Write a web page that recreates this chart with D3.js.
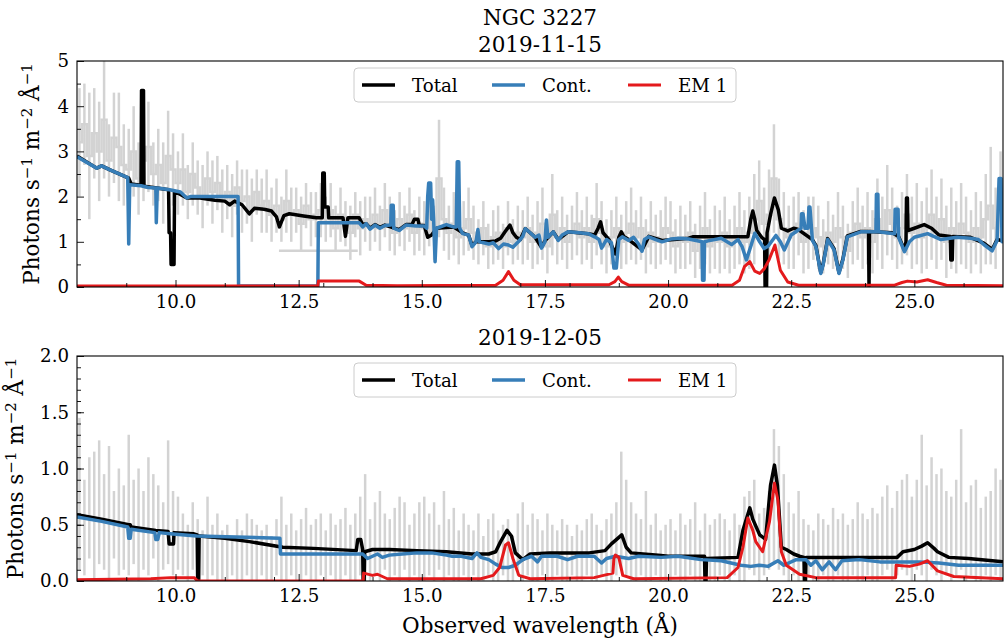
<!DOCTYPE html>
<html lang="en">
<head>
<meta charset="utf-8">
<title>NGC 3227</title>
<script src="https://cdn.jsdelivr.net/npm/d3@7"></script>
<style>
body { margin: 0; background: #fff; }
text { font-family: 'DejaVu Serif', serif; fill: #000; }
</style>
</head>
<body>
<script>
// ---- data ----
var title = "NGC 3227";
var dates = ["2019-11-15", "2019-12-05"];
var legendNames = ["Total", "Cont.", "EM 1"];
var xTicks = [10.0, 12.5, 15.0, 17.5, 20.0, 22.5, 25.0];
var topYTicks = [0, 1, 2, 3, 4, 5];
var botYTicks = [0.0, 0.5, 1.0, 1.5, 2.0];

// observed spectrum, bins of 0.1 A starting at 8.0
var binStart = 8.0, binWidth = 0.1;

// first epoch: value and error per bin
var topVal = [
  3.2,3.6,2.9,3.4,3.0,3.7,2.8,3.3,3.1,2.7,
  2.6,3.0,2.4,2.8,3.1,2.5,2.7,2.3,2.9,2.6,
  2.3,2.6,2.1,2.5,2.2,2.0,2.4,2.1,2.3,1.9,
  2.1,1.8,2.2,1.9,2.0,1.7,2.1,1.8,1.9,1.6,
  1.8,1.5,1.9,1.6,1.7,1.4,1.8,1.5,1.6,1.7,
  1.5,1.7,1.3,1.6,1.4,1.2,1.6,1.3,1.5,1.4,
  1.6,1.3,1.7,1.4,1.2,1.5,1.3,1.6,1.2,1.4,
  1.3,1.6,1.2,2.4,1.5,1.2,1.4,1.1,1.3,1.5,
  1.2,1.0,1.3,0.9,1.1,1.2,0.9,1.3,1.0,1.2,
  1.1,1.3,1.0,1.2,1.4,0.9,1.6,1.1,1.3,1.0,
  1.2,1.4,1.1,1.3,1.0,1.5,1.2,0.9,1.1,1.3,
  1.0,1.2,1.4,1.1,1.3,0.9,1.2,1.0,1.1,1.3,
  1.2,0.9,1.1,1.0,1.2,0.8,1.1,1.3,0.9,1.1,
  1.0,1.2,0.9,1.1,1.3,1.0,1.2,1.5,1.9,1.4,
  1.6,2.4,1.5,1.3,1.1,1.2,1.4,1.0,1.2,1.3,
  1.1,0.9,1.2,1.0,1.3,1.1,0.8,1.2,1.4,1.1,
  1.3,1.0,1.5,1.2,1.7,1.4,1.1,1.3,1.6,1.2,
  1.4,1.1,1.3,1.6,1.2,1.5,1.0,1.3,1.1,1.4,
  1.2,1.0,1.3,1.1,1.5,1.8,1.3,2.0
];
var topErr = [
  1.2,0.9,1.4,1.0,1.1,1.3,0.8,1.0,1.2,0.9,
  0.9,1.0,0.8,0.9,1.0,0.7,0.8,0.9,1.0,0.8,
  0.7,0.8,0.6,0.7,0.6,0.7,0.6,0.7,0.6,0.7,
  0.6,0.7,0.6,0.7,0.6,0.7,0.5,0.6,0.7,0.6,
  0.6,0.5,0.7,0.6,0.5,0.6,0.5,0.6,0.5,0.6,
  0.5,0.6,0.5,0.6,0.5,0.6,0.5,0.6,0.5,0.6,
  0.6,0.5,0.6,0.6,0.5,0.6,0.5,0.6,0.5,0.6,
  0.6,0.7,0.6,1.3,0.7,0.6,0.7,0.6,0.6,0.7,
  0.6,0.5,0.6,0.5,0.6,0.6,0.5,0.6,0.5,0.6,
  0.6,0.7,0.6,0.7,0.8,0.6,0.9,0.6,0.7,0.6,
  0.6,0.7,0.6,0.7,0.6,0.8,0.7,0.6,0.6,0.7,
  0.6,0.7,0.8,0.6,0.7,0.6,0.7,0.6,0.6,0.7,
  0.7,0.6,0.7,0.6,0.7,0.6,0.7,0.8,0.6,0.7,
  0.7,0.8,0.6,0.7,0.8,0.7,0.8,1.0,0.9,0.8,
  1.0,1.2,0.9,0.8,0.7,0.8,0.7,0.7,0.8,0.7,
  0.7,0.6,0.7,0.6,0.8,0.7,0.6,0.7,0.8,0.7,
  0.8,0.7,0.9,0.8,1.0,0.8,0.7,0.8,0.9,0.8,
  0.9,0.8,0.9,1.0,0.8,0.9,0.8,0.9,0.8,0.9,
  0.8,0.7,0.8,0.8,1.0,1.3,0.9,1.0
];
// one wide bin across the chip gap: [from, to, value]
var topWideBin = [12.1, 13.7, 0.8];

// second epoch: low and high end of each error bar
var botHi = [
  1.45,0.9,1.1,1.15,1.25,0.95,1.2,0.8,1.0,0.85,
  1.3,0.9,1.0,0.8,1.1,0.95,0.85,0.7,1.25,0.8,
  0.75,0.6,0.5,0.7,0.55,0.45,0.75,0.5,0.6,0.45,
  0.5,0.4,0.55,0.45,0.6,0.55,0.5,0.45,0.5,0.4,
  0.55,0.75,0.5,0.6,0.45,0.55,0.65,0.5,0.55,0.6,
  0.45,0.6,0.5,0.55,0.65,0.5,0.6,0.75,0.95,0.55,
  0.7,0.8,0.6,0.55,0.65,0.75,0.7,0.5,0.6,0.7,
  0.75,0.6,0.7,0.5,0.8,0.55,0.65,0.45,0.6,0.5,
  0.45,0.6,0.4,0.55,0.6,0.45,0.5,0.55,0.4,0.6,
  0.7,0.5,0.6,0.55,0.45,0.6,0.5,0.45,0.55,0.5,
  0.4,0.5,0.45,0.55,0.6,0.5,0.45,0.55,0.6,0.7,
  1.15,0.9,0.7,0.6,0.55,0.8,0.5,0.6,0.45,0.5,
  0.55,0.45,0.6,0.5,0.55,0.7,0.45,0.6,0.5,0.55,
  0.6,0.55,0.45,0.6,0.5,0.75,0.8,0.9,0.6,0.65,
  0.8,1.35,1.2,0.95,0.7,0.6,0.8,0.55,0.5,0.45,
  0.6,0.55,0.5,0.65,0.55,0.6,0.5,0.55,0.7,0.6,
  0.55,0.65,0.6,0.75,0.85,0.65,0.8,0.9,0.95,0.75,
  0.9,1.3,0.85,1.1,0.95,1.0,0.8,0.75,0.9,1.35,
  0.7,0.85,0.9,0.65,0.75,0.8,1.0,0.9
];
var botLo = [
  0.1,0.05,0.2,0.0,0.15,0.1,0.0,0.2,0.05,0.1,
  0.05,0.15,0.0,0.1,0.05,0.2,0.0,0.1,0.15,0.05,
  0.1,0.05,0.0,0.1,0.0,0.05,0.0,0.05,0.0,0.0,
  0.0,0.05,0.0,0.0,0.05,0.0,0.0,0.05,0.0,0.0,
  0.05,0.0,0.0,0.05,0.0,0.0,0.05,0.0,0.0,0.05,
  0.0,0.05,0.0,0.0,0.05,0.0,0.0,0.05,0.0,0.0,
  0.05,0.0,0.1,0.0,0.05,0.0,0.1,0.0,0.05,0.0,
  0.0,0.05,0.0,0.1,0.0,0.05,0.0,0.0,0.05,0.0,
  0.05,0.0,0.0,0.05,0.0,0.0,0.05,0.0,0.0,0.05,
  0.0,0.05,0.0,0.0,0.05,0.0,0.0,0.05,0.0,0.0,
  0.05,0.0,0.0,0.05,0.0,0.0,0.05,0.0,0.0,0.05,
  0.1,0.05,0.0,0.0,0.05,0.0,0.0,0.05,0.0,0.0,
  0.0,0.05,0.0,0.0,0.05,0.0,0.0,0.05,0.0,0.0,
  0.05,0.0,0.0,0.05,0.0,0.0,0.1,0.05,0.0,0.05,
  0.1,0.15,0.1,0.05,0.0,0.05,0.0,0.0,0.05,0.0,
  0.0,0.05,0.0,0.0,0.05,0.0,0.0,0.05,0.0,0.0,
  0.05,0.0,0.0,0.05,0.1,0.0,0.05,0.1,0.05,0.0,
  0.1,0.05,0.0,0.1,0.05,0.0,0.05,0.0,0.05,0.1,
  0.0,0.05,0.0,0.0,0.05,0.0,0.05,0.0
];

// model curves as [wavelength, flux]
var topTotal = [[8.0,2.9],[8.4,2.63],[8.5,2.68],[8.67,2.59],[9.05,2.41],[9.1,2.28],[9.3,2.25],[9.31,4.35],[9.35,4.35],[9.36,2.23],
  [9.62,2.19],[9.86,2.15],[9.87,1.2],[9.9,1.2],[9.91,0.5],[9.97,0.5],[9.98,2.12],[10.23,1.97],[10.5,1.97],[10.8,1.92],
  [11.0,1.9],[11.1,1.82],[11.2,1.9],[11.35,1.82],[11.5,1.62],[11.6,1.74],[11.8,1.72],[11.95,1.68],[12.05,1.55],[12.11,1.33],
  [12.2,1.58],[12.31,1.62],[12.6,1.57],[12.86,1.53],[12.98,1.53],[12.99,2.52],[13.02,2.52],[13.03,1.77],[13.1,1.77],[13.11,1.53],
  [13.4,1.53],[13.45,1.12],[13.5,1.53],[13.73,1.53],[13.8,1.38],[13.87,1.4],[13.95,1.3],[14.05,1.38],[14.15,1.32],[14.25,1.37],
  [14.54,1.27],[14.68,1.38],[14.8,1.38],[14.85,1.5],[14.92,1.5],[14.95,1.36],[15.05,1.36],[15.12,1.1],[15.2,1.15],[15.3,1.3],
  [15.64,1.33],[15.83,1.2],[15.95,1.15],[16.02,0.92],[16.1,1.0],[16.36,1.0],[16.5,1.02],[16.6,1.08],[16.69,1.22],[16.79,1.37],
  [16.85,1.2],[16.92,1.1],[17.0,1.05],[17.1,1.29],[17.2,1.2],[17.3,1.1],[17.43,0.88],[17.5,1.02],[17.67,1.22],[17.77,1.05],
  [17.97,1.22],[18.38,1.18],[18.51,1.15],[18.58,1.3],[18.63,1.44],[18.68,1.2],[18.8,1.05],[18.93,0.73],[19.0,1.1],[19.05,1.22],
  [19.1,1.12],[19.2,1.05],[19.47,0.82],[19.61,1.12],[19.88,1.03],[20.42,1.08],[20.5,1.11],[21.62,1.11],[21.68,1.5],[21.72,1.68],
  [21.76,1.5],[21.8,1.25],[21.9,1.1],[21.96,1.05],[21.97,0.0],[22.0,0.0],[22.01,1.2],[22.08,1.6],[22.16,1.97],[22.24,1.7],
  [22.3,1.3],[22.43,1.24],[22.55,1.3],[22.63,1.28],[22.93,1.05],[23.0,0.92],[23.1,0.32],[23.15,0.52],[23.24,1.07],[23.37,0.85],
  [23.47,0.32],[23.55,0.62],[23.64,1.13],[23.91,1.23],[24.07,1.23],[24.08,0.0],[24.09,1.23],[24.55,1.2],[24.68,1.12],[24.8,0.82],
  [24.83,1.0],[24.84,1.97],[24.86,1.97],[24.87,1.25],[25.0,1.3],[25.2,1.38],[25.35,1.3],[25.5,1.15],[25.73,1.12],[25.74,0.6],
  [25.77,0.6],[25.78,1.12],[26.14,1.1],[26.41,0.97],[26.58,0.83],[26.68,1.05],[26.8,1.02]];

var topCont = [[8.0,2.88],[8.4,2.63],[8.5,2.68],[8.67,2.59],[9.03,2.42],[9.05,0.95],[9.07,2.26],[9.3,2.24],[9.45,2.2],[9.6,2.19],
  [9.61,1.42],[9.63,2.19],[9.88,2.15],[10.1,2.1],[10.23,1.97],[10.3,2.0],[11.27,2.0],[11.28,0.02],[12.89,0.02],[12.9,1.42],
  [13.73,1.42],[13.8,1.33],[13.87,1.4],[13.95,1.28],[14.05,1.37],[14.15,1.3],[14.25,1.36],[14.37,1.37],[14.38,1.81],[14.42,1.81],
  [14.43,1.3],[14.54,1.25],[14.68,1.37],[14.88,1.35],[15.05,1.35],[15.1,1.3],[15.12,2.0],[15.14,2.3],[15.18,2.3],[15.2,1.5],
  [15.22,1.93],[15.24,1.5],[15.27,0.56],[15.3,1.3],[15.5,1.38],[15.64,1.33],[15.7,1.33],[15.72,2.77],[15.75,2.77],[15.77,1.3],
  [15.83,1.18],[15.95,1.15],[16.02,0.89],[16.1,1.0],[16.14,1.27],[16.17,1.0],[16.36,0.95],[16.45,0.98],[16.56,0.85],[16.66,0.95],
  [16.76,0.93],[16.85,0.88],[16.96,1.0],[17.05,1.12],[17.1,1.29],[17.2,1.2],[17.3,1.1],[17.38,1.15],[17.43,0.86],[17.5,1.0],
  [17.53,1.48],[17.56,1.1],[17.67,1.22],[17.77,1.03],[17.85,1.15],[17.97,1.22],[18.2,1.2],[18.38,1.18],[18.51,1.11],[18.6,1.05],
  [18.65,0.86],[18.75,1.05],[18.85,0.98],[18.9,0.42],[18.95,0.42],[19.0,1.05],[19.07,1.11],[19.2,1.03],[19.3,1.1],[19.4,0.95],
  [19.47,0.79],[19.52,1.05],[19.61,1.11],[19.75,1.05],[19.88,1.0],[20.05,1.06],[20.25,1.08],[20.42,1.06],[20.69,1.0],[20.7,0.15],
  [20.73,0.15],[20.74,1.0],[20.81,1.02],[21.08,1.08],[21.29,0.94],[21.42,1.05],[21.5,0.9],[21.59,0.6],[21.68,0.9],[21.76,1.19],
  [21.86,1.0],[21.95,0.85],[22.03,0.9],[22.19,1.14],[22.28,1.0],[22.36,0.82],[22.5,1.15],[22.63,1.25],[22.7,1.3],[22.71,1.62],
  [22.74,1.62],[22.78,1.3],[22.84,1.3],[22.86,1.77],[22.88,1.77],[22.93,1.03],[23.0,0.9],[23.1,0.3],[23.15,0.5],[23.24,1.05],
  [23.37,0.82],[23.47,0.3],[23.55,0.6],[23.64,1.11],[23.91,1.22],[24.22,1.22],[24.23,2.05],[24.26,2.05],[24.27,1.22],[24.6,1.18],
  [24.61,1.72],[24.67,1.72],[24.68,1.1],[24.8,0.78],[24.9,1.0],[25.0,1.1],[25.27,1.18],[25.54,1.05],[25.87,1.1],[26.14,1.08],
  [26.3,1.05],[26.41,0.94],[26.58,0.8],[26.68,1.03],[26.72,2.4],[26.76,2.4],[26.78,1.0],[26.8,1.0]];

var topEm1 = [[8.0,0.02],[12.89,0.02],[12.9,0.13],[13.73,0.13],[13.87,0.04],[14.5,0.03],[16.5,0.04],[16.65,0.15],[16.76,0.34],[16.87,0.15],
  [17.0,0.05],[18.8,0.05],[18.92,0.12],[18.99,0.22],[19.06,0.12],[19.2,0.04],[21.3,0.04],[21.45,0.15],[21.55,0.45],[21.66,0.56],
  [21.76,0.35],[21.86,0.3],[21.95,0.4],[22.05,0.6],[22.17,0.93],[22.28,0.37],[22.43,0.11],[22.65,0.04],[24.6,0.04],[24.75,0.1],
  [24.86,0.13],[25.05,0.11],[25.27,0.16],[25.45,0.1],[25.65,0.04],[26.8,0.03]];

var botTotal = [[8.0,0.59],[8.5,0.55],[9.05,0.5],[9.08,0.5],[9.1,0.48],[9.6,0.45],[9.85,0.44],[9.87,0.33],[9.96,0.33],[9.97,0.43],
  [10.36,0.42],[10.44,0.41],[10.45,0.0],[10.47,0.0],[10.48,0.4],[11.0,0.38],[11.5,0.35],[12.18,0.3],[12.8,0.29],[13.67,0.27],
  [13.7,0.37],[13.76,0.37],[13.8,0.28],[13.81,0.0],[13.83,0.0],[13.84,0.26],[14.0,0.28],[14.34,0.28],[14.9,0.27],[15.5,0.26],
  [16.02,0.24],[16.36,0.24],[16.5,0.26],[16.6,0.35],[16.73,0.45],[16.82,0.4],[16.9,0.25],[17.05,0.19],[17.2,0.24],[17.6,0.25],
  [18.4,0.25],[18.72,0.27],[18.85,0.33],[19.06,0.41],[19.15,0.3],[19.25,0.25],[19.8,0.23],[20.0,0.22],[20.74,0.22],[20.75,0.0],
  [20.77,0.0],[20.78,0.2],[21.42,0.21],[21.52,0.45],[21.66,0.65],[21.72,0.55],[21.86,0.41],[21.98,0.37],[22.08,0.85],[22.16,1.03],
  [22.22,0.85],[22.3,0.3],[22.4,0.28],[22.55,0.24],[22.67,0.22],[22.76,0.21],[22.77,0.0],[22.79,0.0],[22.8,0.21],[24.65,0.21],
  [24.77,0.26],[25.0,0.28],[25.15,0.31],[25.27,0.34],[25.4,0.29],[25.47,0.26],[25.7,0.21],[26.1,0.2],[26.8,0.17]];

var botCont = [[8.0,0.57],[8.5,0.53],[9.03,0.48],[9.05,0.38],[9.08,0.38],[9.1,0.46],[9.58,0.43],[9.6,0.37],[9.64,0.37],[9.67,0.43],
  [9.89,0.42],[10.43,0.4],[12.12,0.38],[12.13,0.24],[13.8,0.24],[13.9,0.2],[14.0,0.22],[14.1,0.24],[14.2,0.21],[14.34,0.23],
  [14.6,0.24],[14.9,0.25],[15.2,0.25],[15.5,0.23],[15.62,0.22],[15.8,0.22],[16.02,0.2],[16.12,0.25],[16.2,0.21],[16.36,0.19],
  [16.5,0.15],[16.63,0.12],[16.76,0.12],[16.9,0.14],[17.05,0.19],[17.23,0.22],[17.35,0.17],[17.43,0.22],[17.75,0.22],[17.96,0.19],
  [18.16,0.22],[18.5,0.22],[18.65,0.16],[18.75,0.2],[18.93,0.22],[19.2,0.2],[19.4,0.22],[19.86,0.21],[20.2,0.22],[20.67,0.19],
  [21.08,0.18],[21.48,0.14],[21.68,0.13],[21.85,0.14],[22.03,0.13],[22.23,0.18],[22.35,0.14],[22.6,0.19],[22.8,0.19],[22.9,0.14],
  [23.0,0.18],[23.13,0.1],[23.27,0.17],[23.4,0.1],[23.53,0.18],[23.88,0.19],[24.3,0.17],[24.7,0.17],[25.1,0.17],[25.5,0.16],
  [25.9,0.14],[26.3,0.14],[26.8,0.14]];

var botEm1 = [[8.0,0.01],[9.5,0.02],[9.9,0.03],[10.38,0.03],[10.45,0.0],[13.81,0.0],[13.82,0.07],[14.0,0.05],[14.1,0.06],[14.3,0.02],
  [16.2,0.02],[16.45,0.05],[16.58,0.12],[16.7,0.32],[16.76,0.34],[16.85,0.2],[16.97,0.05],[17.2,0.02],[18.5,0.03],[18.88,0.07],
  [18.9,0.2],[18.93,0.23],[19.0,0.21],[19.08,0.05],[19.3,0.02],[21.2,0.03],[21.42,0.12],[21.52,0.3],[21.62,0.56],[21.72,0.45],
  [21.78,0.35],[21.92,0.26],[22.06,0.53],[22.16,0.87],[22.23,0.72],[22.3,0.26],[22.4,0.14],[22.67,0.06],[23.0,0.03],[24.62,0.03],
  [24.63,0.14],[24.9,0.13],[25.1,0.15],[25.27,0.18],[25.47,0.09],[25.8,0.04],[26.8,0.02]];

// ---- drawing ----
var w = 1004, h = 640;
var colors = ["#000000", "#377eb8", "#e41a1c"];
var widths = [3.5, 3.5, 3];
var bigFont = "21.5px", smallFont = "18.2px";

var svg = d3.select("body").append("svg")
  .attr("width", w)
  .attr("height", h);

var x = d3.scaleLinear().domain([8, 26.8]).range([77, 1003]);
var binCenter = function(i) { return binStart + binWidth * (i + 0.5); };

var panels = [
  { y: d3.scaleLinear().domain([0, 5]).range([287, 61]), ticks: topYTicks, minor: d3.range(0.5, 5, 1),
    fmt: d3.format("d"), curves: [topTotal, topCont, topEm1], legendY: 68, labelX: 39 },
  { y: d3.scaleLinear().domain([0, 2]).range([581, 356]), ticks: botYTicks, minor: d3.range(0.1, 2, 0.1),
    fmt: d3.format(".1f"), curves: [botTotal, botCont, botEm1], legendY: 363, labelX: 23 }
];

var line = d3.line();

panels.forEach(function(p, k) {
  var y = p.y;
  var top = y.range()[1], bottom = y.range()[0];
  var g = svg.append("g");

  g.append("clipPath").attr("id", "clip" + k)
    .append("rect")
    .attr("x", x.range()[0]).attr("y", top)
    .attr("width", x.range()[1] - x.range()[0]).attr("height", bottom - top);

  var plot = g.append("g").attr("clip-path", "url(#clip" + k + ")");

  // observed data in light grey
  if (k === 0) {
    plot.selectAll("line.err")
      .data(topVal)
      .enter().append("line")
      .attr("class", "err")
      .attr("x1", function(d, i) { return x(binCenter(i)); })
      .attr("x2", function(d, i) { return x(binCenter(i)); })
      .attr("y1", function(d, i) { return y(d - topErr[i]); })
      .attr("y2", function(d, i) { return y(d + topErr[i]); })
      .attr("stroke", "#d3d3d3")
      .attr("stroke-width", 2.5);
    plot.append("path")
      .datum(topVal)
      .attr("d", d3.line().curve(d3.curveStep)
        .x(function(d, i) { return x(binCenter(i)); })
        .y(function(d) { return y(d); }))
      .attr("fill", "none")
      .attr("stroke", "#d3d3d3")
      .attr("stroke-width", 2.5);
    plot.append("line")
      .attr("x1", x(topWideBin[0])).attr("x2", x(topWideBin[1]))
      .attr("y1", y(topWideBin[2])).attr("y2", y(topWideBin[2]))
      .attr("stroke", "#d3d3d3")
      .attr("stroke-width", 2.5);
  } else {
    plot.selectAll("line.err")
      .data(botHi)
      .enter().append("line")
      .attr("class", "err")
      .attr("x1", function(d, i) { return x(binCenter(i)); })
      .attr("x2", function(d, i) { return x(binCenter(i)); })
      .attr("y1", function(d, i) { return y(botLo[i]); })
      .attr("y2", function(d) { return y(d); })
      .attr("stroke", "#d3d3d3")
      .attr("stroke-width", 2.5);
  }

  // model components
  line.x(function(d) { return x(d[0]); }).y(function(d) { return y(d[1]); });
  p.curves.forEach(function(c, j) {
    plot.append("path")
      .datum(c)
      .attr("d", line)
      .attr("fill", "none")
      .attr("stroke", colors[j])
      .attr("stroke-width", widths[j])
      .attr("stroke-linejoin", "round");
  });

  // axes, ticks pointing inwards
  var axes = g.append("g");
  axes.append("g").attr("transform", "translate(0," + bottom + ")")
    .call(d3.axisBottom(x).tickValues(xTicks).tickFormat(d3.format(".1f"))
      .tickSizeInner(-7).tickSizeOuter(0).tickPadding(8));
  axes.append("g").attr("transform", "translate(0," + bottom + ")")
    .call(d3.axisBottom(x).tickValues([9, 11, 12, 13, 14, 16, 17, 18, 19, 21, 22, 23, 24, 26])
      .tickFormat("").tickSizeInner(-4).tickSizeOuter(0));
  axes.append("g").attr("transform", "translate(" + x.range()[0] + ",0)")
    .call(d3.axisLeft(y).tickValues(p.ticks).tickFormat(p.fmt)
      .tickSizeInner(-7).tickSizeOuter(0).tickPadding(8));
  axes.append("g").attr("transform", "translate(" + x.range()[0] + ",0)")
    .call(d3.axisLeft(y).tickValues(p.minor).tickFormat("")
      .tickSizeInner(-4).tickSizeOuter(0));

  axes.selectAll("g").attr("font-family", null).attr("font-size", null);
  axes.selectAll(".domain").remove();
  axes.selectAll(".tick line").attr("stroke", "#000").attr("stroke-width", 0.9);
  axes.selectAll(".tick text")
    .style("font-family", "'DejaVu Serif', serif")
    .style("font-size", smallFont)
    .attr("fill", "#000");

  // frame
  g.append("rect")
    .attr("x", x.range()[0]).attr("y", top)
    .attr("width", x.range()[1] - x.range()[0]).attr("height", bottom - top)
    .attr("fill", "none").attr("stroke", "#000").attr("stroke-width", 1.1);

  // y label with superscripts
  var lab = g.append("text")
    .attr("transform", "translate(" + p.labelX + "," + ((top + bottom) / 2) + ") rotate(-90)")
    .attr("text-anchor", "middle")
    .style("font-size", bigFont);
  var parts = [["Photons s", false], ["\u22121", true], [" m", false], ["\u22122", true], [" \u00c5", false], ["\u22121", true]];
  parts.forEach(function(q, n) {
    var t = lab.append("tspan").text(q[0]);
    if (q[1]) t.attr("dy", -7).style("font-size", "15px");
    else if (n > 0) t.attr("dy", 7);
  });

  // legend
  var lg = g.append("g").attr("transform", "translate(354," + p.legendY + ")");
  lg.append("rect")
    .attr("width", 382).attr("height", 34).attr("rx", 4)
    .attr("fill", "#fff").attr("fill-opacity", 0.8)
    .attr("stroke", "#cccccc").attr("stroke-width", 1);
  var itemX = [8, 138, 274];
  legendNames.forEach(function(name, j) {
    lg.append("line")
      .attr("x1", itemX[j]).attr("x2", itemX[j] + 33)
      .attr("y1", 17).attr("y2", 17)
      .attr("stroke", colors[j]).attr("stroke-width", widths[j]);
    lg.append("text")
      .attr("x", itemX[j] + 50).attr("y", 23.5)
      .style("font-size", smallFont)
      .text(name);
  });
});

// titles
svg.append("text").attr("x", 540).attr("y", 25).attr("text-anchor", "middle")
  .style("font-size", bigFont).text(title);
svg.append("text").attr("x", 540).attr("y", 52).attr("text-anchor", "middle")
  .style("font-size", bigFont).text(dates[0]);
svg.append("text").attr("x", 540).attr("y", 345).attr("text-anchor", "middle")
  .style("font-size", bigFont).text(dates[1]);
svg.append("text").attr("x", 540).attr("y", 633).attr("text-anchor", "middle")
  .style("font-size", bigFont).text("Observed wavelength (\u00c5)");
</script>
</body>
</html>
